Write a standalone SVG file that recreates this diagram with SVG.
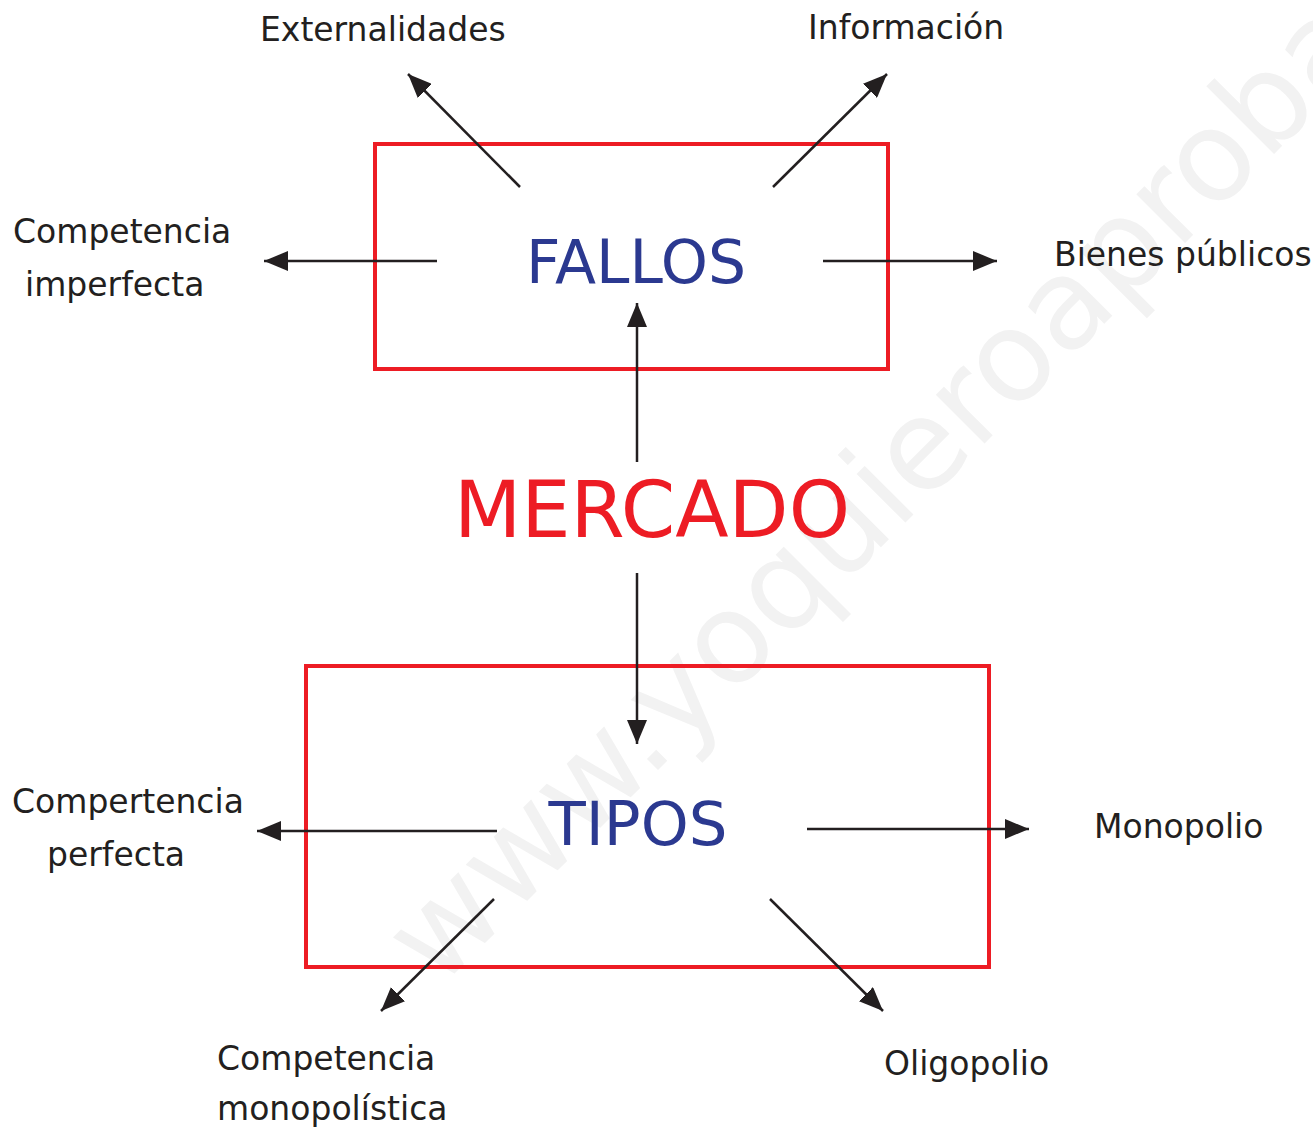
<svg xmlns="http://www.w3.org/2000/svg" width="1313" height="1127" viewBox="0 0 1313 1127">
<style>
.lbl{font-family:"DejaVu Sans",Verdana,sans-serif;font-size:33px;fill:#231f20}
.box{fill:none;stroke:#ed1c24;stroke-width:4}
.con line{stroke:#231f20;stroke-width:2.5;marker-end:url(#ah)}
.blue{font-family:"DejaVu Sans",Verdana,sans-serif;font-size:60px;fill:#2b3990}
.wm{font-family:"DejaVu Sans",Verdana,sans-serif;font-size:126px;fill:#f2f2f2}
</style>
<defs>
<marker id="ah" viewBox="0 0 24 20" refX="24" refY="10" markerWidth="24" markerHeight="20" markerUnits="userSpaceOnUse" orient="auto">
<path d="M0,0 L24,10 L0,20 z" fill="#231f20"/>
</marker>
</defs>
<rect width="1313" height="1127" fill="#fff"/>
<text class="wm" transform="translate(438,990) rotate(-45)">www.yoquieroaprobar.es</text>
<g id="fallos">
<rect class="box" x="375" y="144" width="513" height="225"/>
<text class="blue" x="636" y="283" text-anchor="middle">FALLOS</text>
</g>
<g id="tipos">
<rect class="box" x="306" y="666" width="683" height="301"/>
<text class="blue" x="638" y="845" text-anchor="middle" style="font-size:61px">TIPOS</text>
</g>
<g id="mercado">
<text x="652" y="537" text-anchor="middle" style="font-family:'DejaVu Sans',Verdana,sans-serif;font-size:78px;fill:#ed1c24">MERCADO</text>
</g>
<g id="externalidades"><text class="lbl" x="260" y="41">Externalidades</text></g>
<g id="informacion"><text class="lbl" x="808" y="39">Información</text></g>
<g id="comp-imperfecta"><text class="lbl" x="13" y="243">Competencia</text><text class="lbl" x="25" y="296">imperfecta</text></g>
<g id="bienes"><text class="lbl" x="1054" y="266">Bienes públicos</text></g>
<g id="comp-perfecta"><text class="lbl" x="12" y="813">Compertencia</text><text class="lbl" x="47" y="866">perfecta</text></g>
<g id="monopolio"><text class="lbl" x="1094" y="838">Monopolio</text></g>
<g id="comp-monopolistica"><text class="lbl" x="217" y="1070">Competencia</text><text class="lbl" x="217" y="1120">monopolística</text></g>
<g id="oligopolio"><text class="lbl" x="884" y="1075">Oligopolio</text></g>
<g id="connectors" class="con">
<line x1="520" y1="187" x2="408" y2="74"/>
<line x1="773" y1="187" x2="887" y2="74"/>
<line x1="437" y1="261" x2="264" y2="261"/>
<line x1="823" y1="261" x2="997" y2="261"/>
<line x1="637" y1="462" x2="637" y2="303"/>
<line x1="637" y1="573" x2="637" y2="744"/>
<line x1="497" y1="831" x2="257" y2="831"/>
<line x1="807" y1="829" x2="1029" y2="829"/>
<line x1="494" y1="899" x2="381" y2="1011"/>
<line x1="770" y1="899" x2="883" y2="1011"/>
</g>
</svg>
